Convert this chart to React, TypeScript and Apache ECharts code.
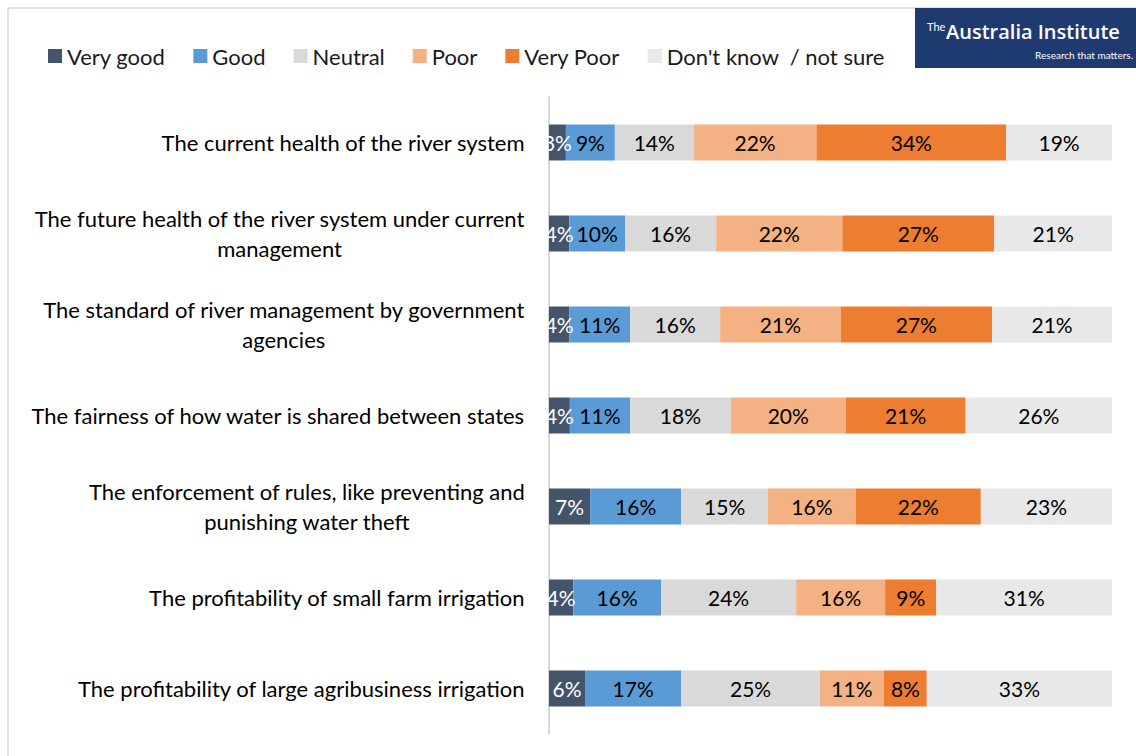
import React, { useEffect, useRef } from "react";
import * as echarts from "echarts";

const categories = [
  "The current health of the river system",
  "The future health of the river system under current management",
  "The standard of river management by government agencies",
  "The fairness of how water is shared between states",
  "The enforcement of rules, like preventing and punishing water theft",
  "The profitability of small farm irrigation",
  "The profitability of large agribusiness irrigation",
];

const seriesNames = ["Very good", "Good", "Neutral", "Poor", "Very Poor", "Don't know  / not sure"];

const veryGood = [3.0, 3.6, 3.6, 3.7, 7.3, 4.3, 6.4];
const good = [8.7, 9.9, 10.8, 10.7, 16.2, 15.6, 17.1];
const neutral = [14.0, 16.2, 16.0, 17.9, 15.4, 24.0, 24.6];
const poor = [21.8, 22.4, 21.4, 20.4, 15.6, 15.8, 11.4];
const veryPoor = [33.7, 27.0, 26.9, 21.3, 22.2, 9.1, 7.6];
const dontKnow = [18.8, 20.9, 21.3, 26.0, 23.3, 31.2, 32.9];

const seriesValues = [veryGood, good, neutral, poor, veryPoor, dontKnow];
const colors = ["#44546A", "#5B9BD5", "#D9D9D9", "#F4B183", "#ED7D31", "#E8E8E8"];
const labelColors = ["#FFFFFF", "#000000", "#000000", "#000000", "#000000", "#000000"];

const FONT = "Lato, 'Noto Sans', sans-serif";

function wrap(text: string, limit: number): string[] {
  const words = text.split(" ");
  const lines: string[] = [];
  let cur = "";
  for (const w of words) {
    const next = cur ? cur + " " + w : w;
    if (next.length > limit && cur) {
      lines.push(cur);
      cur = w;
    } else {
      cur = next;
    }
  }
  if (cur) lines.push(cur);
  return lines;
}

export default function App() {
  const ref = useRef<HTMLDivElement>(null);
  useEffect(() => {
    if (!ref.current) return;
    const chart = echarts.init(ref.current, undefined, { renderer: "svg" });
    chart.setOption({
      animation: false,
      backgroundColor: "#FFFFFF",
      textStyle: { fontFamily: FONT },
      legend: {
        left: 48,
        top: 45,
        padding: 0,
        itemWidth: 14,
        itemHeight: 14,
        itemGap: 28,
        itemTextGap: 5,
        icon: "rect",
        textStyle: { fontSize: 22, color: "#1a1a1a", fontFamily: FONT },
        data: seriesNames,
      },
      grid: { left: 549, right: 24, top: 97, bottom: 22, containLabel: false },
      xAxis: { type: "value", min: 0, max: 100, show: false },
      yAxis: {
        type: "category",
        inverse: true,
        data: categories,
        axisTick: { show: false },
        axisLine: { show: true, lineStyle: { color: "#D9D9D9", width: 2 } },
        axisLabel: {
          margin: 24,
          fontSize: 22,
          color: "#000",
          fontFamily: FONT,
          formatter: (v: string) =>
            wrap(v, 51)
              .map((l) => "{c|" + l + "}")
              .join("\n"),
          rich: {
            c: { align: "center", fontSize: 22, lineHeight: 30, color: "#000", fontFamily: FONT },
          },
        },
      },
      graphic: [
        { type: "line", shape: { x1: 8, y1: 8, x2: 1136, y2: 8 }, style: { stroke: "#D9D9D9", lineWidth: 1.5 } },
        { type: "line", shape: { x1: 8, y1: 8, x2: 8, y2: 756 }, style: { stroke: "#D9D9D9", lineWidth: 1.5 } },
        { type: "rect", shape: { x: 915, y: 8, width: 221, height: 60 }, style: { fill: "#1F3A70" } },
        {
          type: "text",
          x: 927,
          y: 21,
          style: { text: "The", fill: "#FFFFFF", fontSize: 11, fontFamily: FONT },
        },
        {
          type: "text",
          x: 946,
          y: 21,
          style: { text: "Australia Institute", fill: "#FFFFFF", fontSize: 20, fontFamily: "'Open Sans', sans-serif", fontWeight: 600 },
        },
        {
          type: "text",
          x: 1133,
          y: 50,
          style: { text: "Research that matters.", fill: "#FFFFFF", fontSize: 10, fontFamily: FONT, align: "right" },
        },
      ],
      series: seriesValues.map((vals, i) => ({
        name: seriesNames[i],
        type: "bar",
        stack: "total",
        barWidth: 36,
        data: vals,
        itemStyle: { color: colors[i] },
        label: {
          show: true,
          position: "inside",
          fontSize: 21,
          fontFamily: FONT,
          color: labelColors[i],
          formatter: (p: any) => Math.round(p.value) + "%",
        },
      })),
    });
    return () => chart.dispose();
  }, []);
  return (
    <div
      ref={ref}
      style={{ position: "fixed", left: 0, top: 0, width: 1136, height: 756 }}
    />
  );
}
